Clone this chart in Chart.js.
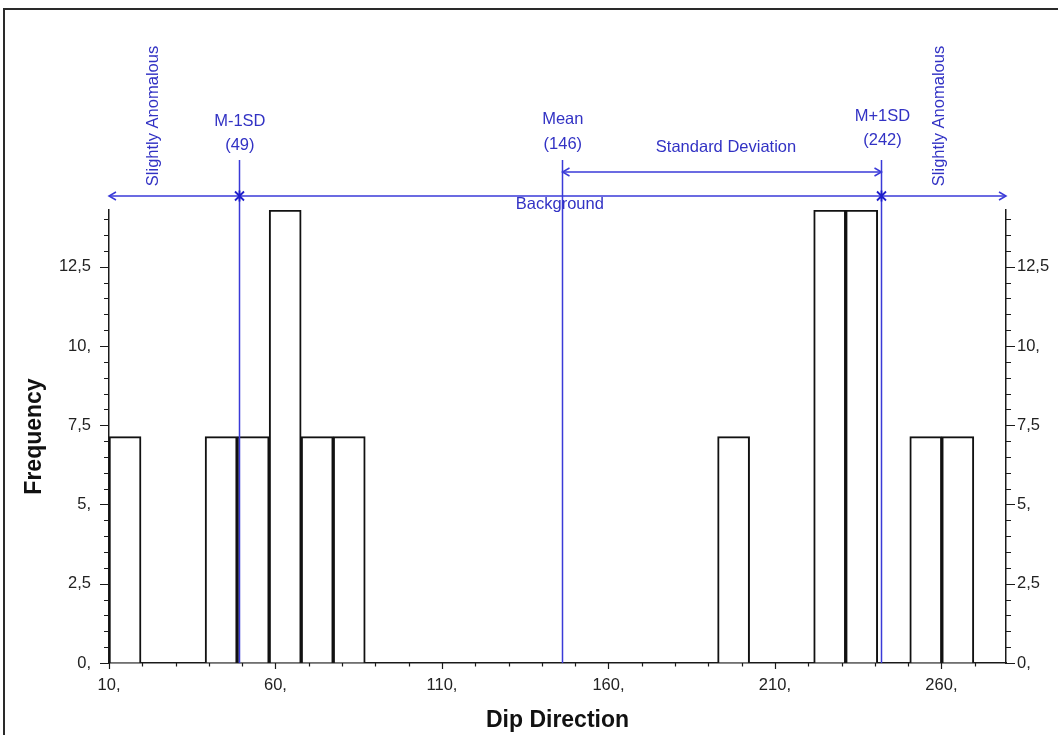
<!DOCTYPE html>
<html><head><meta charset="utf-8">
<script src="https://cdn.jsdelivr.net/npm/chart.js@4.4.1/dist/chart.umd.min.js"></script>
<style>html,body{margin:0;padding:0;background:#fff;} #wrap{width:1058px;height:735px;position:relative;}</style>
</head><body><div id="wrap"><canvas id="c" width="1058" height="735"></canvas></div>
<script>
// ---- data ----
const binCenters  = [14.81, 43.67, 53.29, 62.91, 72.53, 82.15, 197.59, 226.45, 236.07, 255.31, 264.93];
const frequencies = [7.14, 7.14, 7.14, 14.29, 7.14, 7.14, 7.14, 14.29, 14.29, 7.14, 7.14];
const xTickValues = [10, 60, 110, 160, 210, 260];
const xTickLabels = ['10,', '60,', '110,', '160,', '210,', '260,'];
const yTickValues = [0, 2.5, 5, 7.5, 10, 12.5];
const yTickLabels = ['0,', '2,5', '5,', '7,5', '10,', '12,5'];
const markerValues = [49, 146, 242];
const markerNames  = ['M-1SD', 'Mean', 'M+1SD'];
const markerLabels = ['(49)', '(146)', '(242)'];
const zoneLabels   = ['Slightly Anomalous', 'Background', 'Standard Deviation'];
const xMin = 10, xMax = 279.4, yMin = 0, yMax = 14.29;

const FONT = '"Liberation Sans", Arial, sans-serif';
const BLUE_LINE = '#3a3ad8';
const BLUE_TEXT = '#3232c4';
const AXIS = '#1a1a1a';

const frame = {
  id: 'frame',
  beforeDraw(chart) {
    const c = chart.ctx;
    c.save();
    c.fillStyle = '#fff';
    c.fillRect(0, 0, chart.width, chart.height);
    c.strokeStyle = '#2a2a2a';
    c.lineWidth = 2;
    c.strokeRect(4, 9, chart.width + 20, chart.height + 20);
    c.restore();
  }
};

const tickMarks = {
  id: 'tickMarks',
  afterDraw(chart) {
    const c = chart.ctx, xs = chart.scales.x, ys = chart.scales.y, a = chart.chartArea;
    c.save();
    c.strokeStyle = AXIS;
    c.lineWidth = 1.2;
    c.beginPath();
    for (let v = xMin; v <= xMax + 1e-6; v += 10) {
      const px = Math.round(xs.getPixelForValue(v)) + 0.5;
      const len = xTickValues.includes(v) ? 6 : 3.5;
      c.moveTo(px, a.bottom); c.lineTo(px, a.bottom + len);
    }
    for (let v = yMin; v <= yMax + 1e-6; v += 0.5) {
      const py = Math.round(ys.getPixelForValue(v)) + 0.5;
      const len = yTickValues.includes(v) ? 9 : 5;
      c.moveTo(a.left, py); c.lineTo(a.left - len, py);
      c.moveTo(a.right, py); c.lineTo(a.right + len, py);
    }
    c.stroke();
    c.restore();
  }
};

function arrowHead(c, x, y, dir) {
  c.beginPath();
  c.moveTo(x - dir * 7, y - 4);
  c.lineTo(x, y);
  c.lineTo(x - dir * 7, y + 4);
  c.stroke();
}
function asterisk(c, x, y) {
  const r = 4.5;
  c.beginPath();
  c.moveTo(x - r, y - r); c.lineTo(x + r, y + r);
  c.moveTo(x + r, y - r); c.lineTo(x - r, y + r);
  c.moveTo(x, y - r - 1); c.lineTo(x, y + r + 1);
  c.stroke();
}

const annotations = {
  id: 'annotations',
  afterDatasetsDraw(chart) {
    const c = chart.ctx, xs = chart.scales.x, a = chart.chartArea;
    const px = v => xs.getPixelForValue(v);
    const bgY = 196, sdY = 172, lineTop = 160;
    c.save();
    c.strokeStyle = BLUE_LINE;
    c.lineWidth = 1.5;
    markerValues.forEach(v => {
      const x = Math.round(px(v)) + 0.5;
      c.beginPath(); c.moveTo(x, lineTop); c.lineTo(x, a.bottom); c.stroke();
    });
    c.beginPath(); c.moveTo(a.left, bgY); c.lineTo(a.right, bgY); c.stroke();
    arrowHead(c, a.left, bgY, -1);
    arrowHead(c, a.right, bgY, 1);
    const xm = Math.round(px(markerValues[1])) + 0.5, xp = Math.round(px(markerValues[2])) + 0.5;
    c.beginPath(); c.moveTo(xm, sdY); c.lineTo(xp, sdY); c.stroke();
    arrowHead(c, xm, sdY, -1);
    arrowHead(c, xp, sdY, 1);
    c.strokeStyle = '#1f1fcc';
    c.lineWidth = 1.8;
    asterisk(c, Math.round(px(markerValues[0])) + 0.5, bgY);
    asterisk(c, xp, bgY);

    c.fillStyle = BLUE_TEXT;
    c.font = '16.5px ' + FONT;
    c.textAlign = 'center';
    c.textBaseline = 'middle';
    const nameY = [121, 119, 116], valY = [145, 144, 140];
    markerValues.forEach((v, i) => {
      const x = px(v) + 1;
      c.fillText(markerNames[i], x, nameY[i]);
      c.fillText(markerLabels[i], x, valY[i]);
    });
    c.fillText(zoneLabels[2], (xm + xp) / 2 + 4, 147);
    c.fillText(zoneLabels[1], px(146) - 2, 204);
    [px(23.3), px(259.5)].forEach(x => {
      c.save();
      c.translate(x, 116);
      c.rotate(-Math.PI / 2);
      c.fillText(zoneLabels[0], 0, 0);
      c.restore();
    });
    c.restore();
  }
};

new Chart(document.getElementById('c'), {
  type: 'bar',
  data: {
    datasets: [{
      data: binCenters.map((x, i) => ({ x: x, y: frequencies[i] })),
      backgroundColor: '#ffffff',
      borderColor: '#111111',
      borderWidth: 2,
      barPercentage: 1,
      categoryPercentage: 1
    }]
  },
  options: {
    responsive: false,
    animation: false,
    devicePixelRatio: 1,
    layout: { padding: { top: 210, left: 0, right: 0, bottom: 0 } },
    plugins: { legend: { display: false }, tooltip: { enabled: false } },
    scales: {
      x: {
        type: 'linear',
        min: xMin, max: xMax,
        offset: false,
        afterFit: s => { s.height = 72; },
        afterBuildTicks: s => { s.ticks = xTickValues.map(v => ({ value: v })); },
        grid: { display: true, drawOnChartArea: false, drawTicks: false },
        border: { display: true, color: AXIS, width: 1.5 },
        ticks: {
          padding: 13,
          autoSkip: false,
          maxRotation: 0,
          color: '#222',
          font: { family: FONT, size: 16.5 },
          callback: v => xTickLabels[xTickValues.indexOf(v)]
        },
        title: {
          display: true, text: 'Dip Direction', color: '#111',
          font: { family: FONT, size: 23, weight: 'bold' },
          padding: { top: 0, bottom: 1 }
        }
      },
      y: {
        type: 'linear', position: 'left',
        min: yMin, max: yMax,
        afterFit: s => { s.width = 109; },
        afterBuildTicks: s => { s.ticks = yTickValues.map(v => ({ value: v })); },
        grid: { display: true, drawOnChartArea: false, drawTicks: false },
        border: { display: true, color: AXIS, width: 1.5 },
        ticks: {
          padding: 18,
          color: '#222',
          font: { family: FONT, size: 16.5 },
          callback: v => yTickLabels[yTickValues.indexOf(v)]
        },
        title: {
          display: true, text: 'Frequency', color: '#111',
          font: { family: FONT, size: 23, weight: 'bold' },
          padding: { top: 21, bottom: 0 }
        }
      },
      y2: {
        type: 'linear', position: 'right',
        min: yMin, max: yMax,
        afterFit: s => { s.width = 52; },
        afterBuildTicks: s => { s.ticks = yTickValues.map(v => ({ value: v })); },
        grid: { display: true, drawOnChartArea: false, drawTicks: false },
        border: { display: true, color: AXIS, width: 1.5 },
        ticks: {
          padding: 11,
          color: '#222',
          font: { family: FONT, size: 16.5 },
          callback: v => yTickLabels[yTickValues.indexOf(v)]
        }
      }
    }
  },
  plugins: [frame, tickMarks, annotations]
});
</script>
</body></html>
